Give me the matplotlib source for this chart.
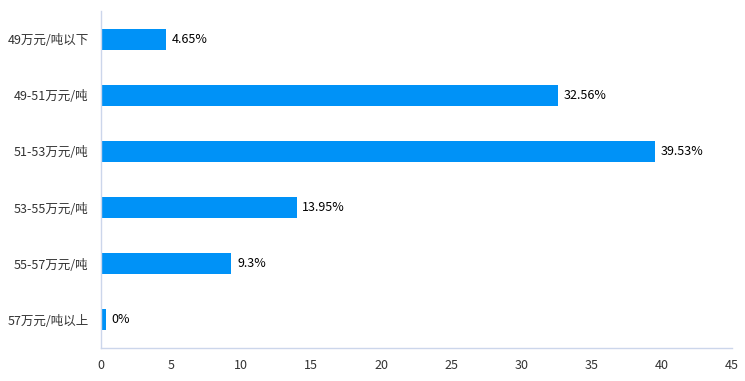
import matplotlib
matplotlib.use("Agg")
import matplotlib.pyplot as plt

plt.rcParams['font.family'] = ['Noto Sans CJK SC', 'DejaVu Sans']

# price ranges (top to bottom) and their shares in percent
categories = ["49万元/吨以下", "49-51万元/吨", "51-53万元/吨", "53-55万元/吨", "55-57万元/吨", "57万元/吨以上"]
shares = [4.65, 32.56, 39.53, 13.95, 9.3, 0]
labels = ["4.65%", "32.56%", "39.53%", "13.95%", "9.3%", "0%"]

bar_color = "#0092F7"
text_color = "#333333"
axis_color = "#CCD6EB"
min_bar = 0.35  # zero-valued bars still show a thin sliver

fig = plt.figure(figsize=(7.45, 3.81), dpi=100)
ax = fig.add_axes([0.1356, 0.0866, 0.8470, 0.8845])

pos = list(range(len(categories)))
widths = [max(v, min_bar) for v in shares]
ax.barh(pos, widths, height=0.375, color=bar_color)

for p, w, lab in zip(pos, widths, labels):
    ax.text(w + 0.4, p, lab, va="center", ha="left", fontsize=9, color="black")

ax.set_yticks(pos)
ax.set_yticklabels(categories)
ax.set_ylim(len(categories) - 0.5, -0.5)
ax.set_xlim(0, 45)
ax.set_xticks(range(0, 46, 5))

for side in ["top", "right"]:
    ax.spines[side].set_visible(False)
for side in ["left", "bottom"]:
    ax.spines[side].set_color(axis_color)
    ax.spines[side].set_linewidth(1)

ax.tick_params(axis="both", length=0, labelsize=9, colors=text_color)
ax.tick_params(axis="y", pad=9)
ax.tick_params(axis="x", pad=8)

fig.savefig("out.png", dpi=100)
